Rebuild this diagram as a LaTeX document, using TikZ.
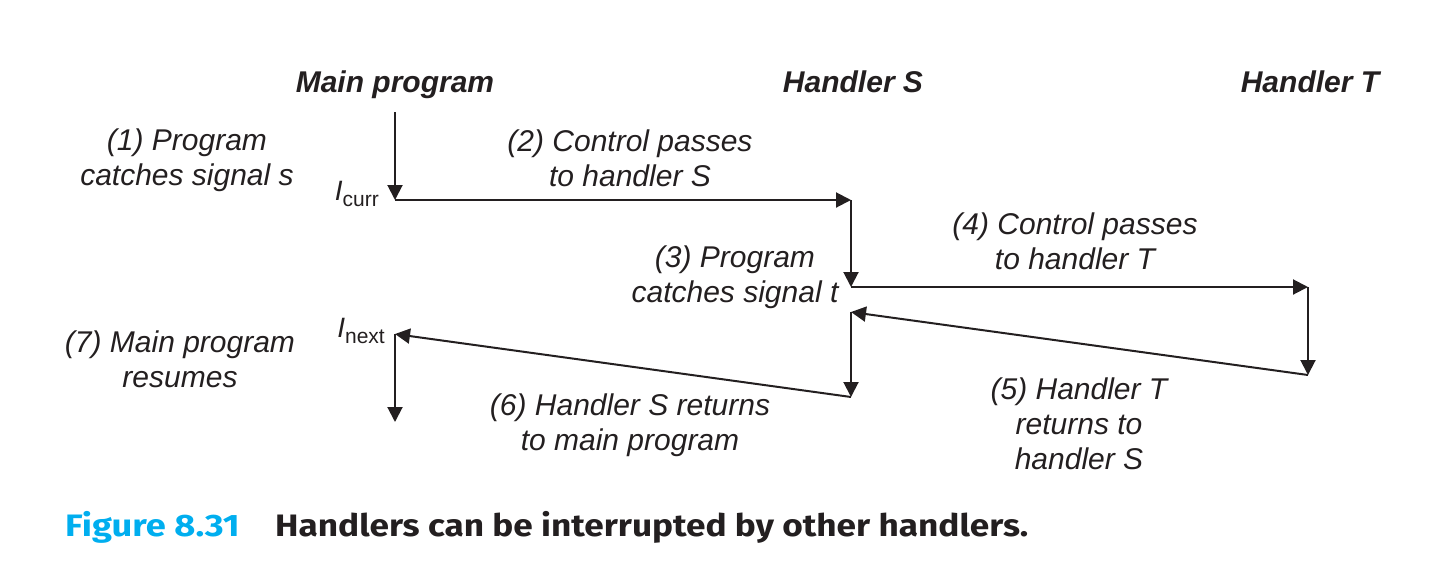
\documentclass[tikz,border=0pt]{standalone}
\usepackage{fontspec}
\setmainfont{Liberation Sans}
\newfontfamily\capfont{Fira Sans}
\usetikzlibrary{arrows.meta}
\definecolor{figblue}{RGB}{0,174,239}
\definecolor{ink}{RGB}{35,31,32}
\begin{document}
\begin{tikzpicture}[x=1pt,y=-1pt,
  lbl/.style={font=\fontsize{30}{35}\selectfont\itshape, align=center, inner sep=0pt, text=ink},
  head/.style={font=\fontsize{30}{35}\selectfont\bfseries\itshape, inner sep=0pt, anchor=base, text=ink},
  ilabel/.style={font=\fontsize{28}{34}\selectfont, inner sep=0pt, anchor=base east, text=ink},
  arr/.style={line width=2pt, draw=ink, -{Triangle[length=15pt,width=15pt]}},
  capnum/.style={font=\capfont\fontsize{31}{36}\selectfont\bfseries, text=figblue, inner sep=0pt, anchor=base west},
  captxt/.style={font=\capfont\fontsize{31}{36}\selectfont\bfseries, text=ink, inner sep=0pt, anchor=base west}]
\useasboundingbox (0,0) rectangle (1441,587);

% column headers
\node[head] (hm) at (395,92) {Main program};
\node[head] (hs) at (853,92) {Handler S};
\node[head] (ht) at (1310,92) {Handler T};

% flow points
\coordinate (m0) at (395,112);
\coordinate (cur) at (395,200);
\coordinate (s0) at (851,200);
\coordinate (s1) at (851,287);
\coordinate (t0) at (1308,287);
\coordinate (t1) at (1308,375);
\coordinate (s2) at (851,312);
\coordinate (s3) at (851,397);
\coordinate (nx) at (395,334);
\coordinate (m1) at (395,422);

\draw[arr] (m0) -- (cur);
\draw[arr] (cur) -- (s0);
\draw[arr] (s0) -- (s1);
\draw[arr] (s1) -- (t0);
\draw[arr] (t0) -- (t1);
\draw[arr] (t1) -- (s2);
\draw[arr] (s2) -- (s3);
\draw[arr] (s3) -- (nx);
\draw[arr] (nx) -- (m1);

% instruction labels
\node[ilabel] (icurr) at (379,200) {\textit{I}\raisebox{-6pt}{\fontsize{21}{24}\selectfont curr}};
\node[ilabel] (inext) at (385,337) {\textit{I}\raisebox{-6pt}{\fontsize{21}{24}\selectfont next}};

% step labels
\node[lbl] (l1) at (187,160) {(1) Program\\catches signal s};
\node[lbl] (l2) at (630,158) {(2) Control passes\\to handler S};
\node[lbl] (l3) at (735,277) {(3) Program\\catches signal t};
\node[lbl] (l4) at (1075,241) {(4) Control passes\\to handler T};
\node[lbl] (l5) at (1079,424) {(5) Handler T\\returns to\\handler S};
\node[lbl] (l6) at (630,425) {(6) Handler S returns\\to main program};
\node[lbl] (l7) at (180,359) {(7) Main program\\resumes};

% caption
\node[capnum] (fig) at (65,536) {\scalebox{1.17}[1]{Figure 8.31}};
\node[captxt] (cap) at (275,536) {\scalebox{1.135}[1]{Handlers can be interrupted by other handlers.}};
\end{tikzpicture}
\end{document}
